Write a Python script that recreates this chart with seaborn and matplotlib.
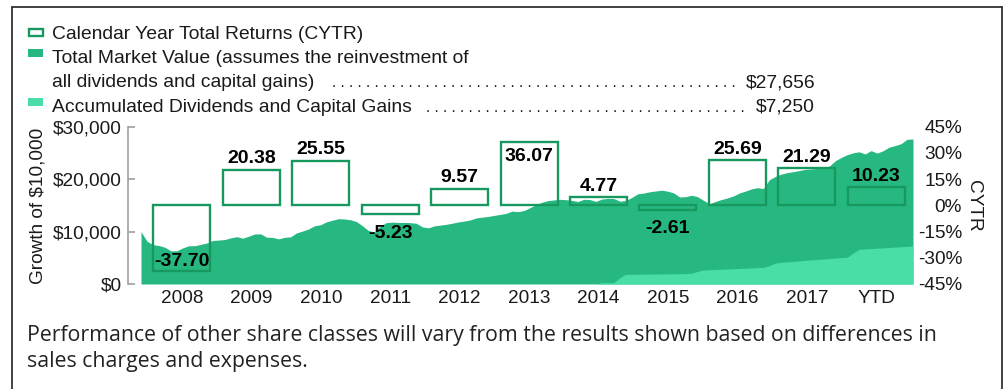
import numpy as np
import matplotlib
matplotlib.use("Agg")
import matplotlib.pyplot as plt
import seaborn as sns
from matplotlib.lines import Line2D
from matplotlib.patches import Rectangle

# ---- data -------------------------------------------------------------
years = ["2008", "2009", "2010", "2011", "2012", "2013",
         "2014", "2015", "2016", "2017", "YTD"]
cytr = [-37.70, 20.38, 25.55, -5.23, 9.57, 36.07,
        4.77, -2.61, 25.69, 21.29, 10.23]

# month-end growth of $10,000 (Dec 2007 .. Sep 2018)
market_value = [
    10000, 8150, 7500, 7340, 7000, 6320, 6330, 6900, 7300, 7300,
    7560, 7820, 8300, 8380, 8480, 8800, 9020, 8740, 9120, 9540,
    9560, 8920, 8890, 8600, 8900, 9000, 9750, 10100, 10500, 11100,
    11300, 11860, 12170, 12460, 12400, 12260, 11900, 11100, 10200, 9920,
    11100, 11700, 11800, 11740, 11750, 11700, 11580, 10900, 10700, 11080,
    11230, 11380, 11590, 11830, 12000, 12210, 12600, 12750, 12880, 13080,
    13270, 13460, 13900, 13800, 14000, 14560, 15120, 15600, 15900, 16030,
    16150, 16080, 15950, 15740, 16150, 16100, 15760, 16200, 16330, 16300,
    15800, 15900, 16500, 17200, 17340, 17590, 17740, 17890, 17700, 17380,
    16600, 16650, 16930, 16650, 15950, 15300, 15750, 16110, 16420, 16800,
    17360, 17720, 18130, 18370, 18200, 19900, 20510, 20970, 21240, 21420,
    21640, 21850, 21940, 22030, 22210, 22470, 23500, 24130, 24660, 25020,
    25210, 24800, 25440, 24960, 25410, 26100, 26390, 26760, 27600, 27656,
]
accumulated_dividends = [
    0, 0, 0, 0, 0, 0, 0, 0, 0, 0,
    0, 0, 0, 0, 0, 0, 0, 0, 0, 0,
    0, 0, 0, 0, 0, 0, 0, 0, 0, 0,
    0, 0, 0, 0, 0, 0, 0, 0, 0, 0,
    0, 0, 0, 0, 0, 0, 0, 0, 0, 0,
    0, 0, 0, 0, 0, 0, 0, 0, 0, 0,
    0, 0, 0, 0, 0, 0, 0, 0, 0, 0,
    0, 0, 0, 0, 0, 0, 0, 250, 250, 250,
    1200, 1850, 1850, 1870, 1880, 1900, 1910, 1920, 1930, 1950,
    1960, 1980, 2050, 2400, 2670, 2720, 2770, 2820, 2870, 2920,
    2970, 3020, 3070, 3120, 3170, 3500, 4000, 4140, 4230, 4320,
    4410, 4500, 4590, 4680, 4770, 4860, 4950, 5040, 5100, 5900,
    6620, 6690, 6760, 6830, 6900, 6970, 7040, 7110, 7180, 7250,
]
dollar_ticks = [0, 10000, 20000, 30000]
pct_ticks = [-45, -30, -15, 0, 15, 30, 45]
ending_value = 27656
ending_dividends = 7250

# ---- style ------------------------------------------------------------
DARK = "#26b880"
LIGHT = "#48dea6"
BOX = "#16985f"
INK = "#1a1a1a"
FS = 13.7        # tick labels
FS_LEG = 13.9    # legend lines
FS_VAL = 14.0    # bar value labels

W, H, DPI = 1005, 389, 100
sns.set_theme(style="white")
plt.rcParams["font.family"] = ["Liberation Sans", "DejaVu Sans"]

fig = plt.figure(figsize=(W / DPI, H / DPI), dpi=DPI)
fig.patch.set_facecolor("white")


def fx(px):
    return px / W


def fy(py):
    return 1 - py / H


PX = 72 / DPI  # points per pixel

L, R, T, B = 141, 913, 126.7, 284
rect = [fx(L), fy(B), (R - L) / W, (B - T) / H]

# ---- growth-of-$10,000 areas -----------------------------------------
ax = fig.add_axes(rect)
ax.patch.set_visible(False)
months = np.arange(len(market_value))
ax.fill_between(months, 0, market_value, color=DARK, lw=0)
ax.fill_between(months, 0, accumulated_dividends, color=LIGHT, lw=0)
ax.set_xlim(0, len(market_value) - 1)
ax.set_ylim(0, 30000)
ax.set_xticks([])
ax.set_yticks(dollar_ticks)
ax.set_yticklabels([f"${v:,.0f}" for v in dollar_ticks])
for s in ["top", "right", "bottom"]:
    ax.spines[s].set_visible(False)
ax.spines["left"].set_position(("outward", 13 * PX))
ax.spines["left"].set_color("#a0a0a0")
ax.spines["left"].set_linewidth(1.2)
ax.tick_params(axis="y", left=True, direction="in", length=5, width=1.2,
               color="#a0a0a0", pad=4.5, labelsize=FS, labelcolor=INK)

# ---- calendar-year total returns -------------------------------------
ax2 = fig.add_axes(rect)
ax2.patch.set_visible(False)
sns.barplot(x=years, y=cytr, ax=ax2, fill=False, color=BOX, width=0.82,
            linewidth=1.7, errorbar=None)
ax2.set_xlim(-0.59, 10.53)
ax2.set_ylim(-45, 45)
ax2.set_xlabel("")
ax2.set_ylabel("")
for s in ax2.spines.values():
    s.set_visible(False)
ax2.yaxis.tick_right()
ax2.set_yticks(pct_ticks)
ax2.set_yticklabels([f"{v}%" for v in pct_ticks])
ax2.tick_params(axis="y", right=True, left=False, length=0,
                pad=49 * PX, labelsize=FS, labelcolor=INK)
for tl in ax2.get_yticklabels():
    tl.set_horizontalalignment("right")
ax2.tick_params(axis="x", bottom=True, length=0, pad=6 * PX,
                labelsize=FS, labelcolor=INK)

for i, v in enumerate(cytr):
    if v >= 0:
        # above the box, or tucked inside when it would leave the panel
        off = -19 if v > 30 else 6.5
    else:
        off = 5 if v < -30 else -23.5
    ax2.annotate(f"{v:.2f}", (i, v), xytext=(0, off * PX),
                 textcoords="offset points", ha="center", va="baseline",
                 fontsize=FS_VAL, fontweight="bold", color="black", zorder=5)

# ---- axis titles -------------------------------------------------------
fig.text(fx(38), fy(206), "Growth of $10,000", rotation=90,
         ha="center", va="center", fontsize=FS, color=INK)
fig.text(fx(973), fy(206), "CYTR", rotation=270,
         ha="center", va="center", fontsize=FS, color=INK)

# ---- legend -------------------------------------------------------------
fig.add_artist(Rectangle((fx(29), fy(36)), 14 / W, 7 / H, facecolor="white",
                         edgecolor=BOX, linewidth=1.7, transform=fig.transFigure))
fig.add_artist(Rectangle((fx(28), fy(57)), 15 / W, 8 / H, facecolor=DARK,
                         edgecolor="none", transform=fig.transFigure))
fig.add_artist(Rectangle((fx(28), fy(106)), 15 / W, 8 / H, facecolor=LIGHT,
                         edgecolor="none", transform=fig.transFigure))

fig.text(fx(52), fy(39.3), "Calendar Year Total Returns (CYTR)",
         va="baseline", fontsize=FS_LEG, color=INK)
fig.text(fx(52), fy(63.3), "Total Market Value (assumes the reinvestment of",
         va="baseline", fontsize=FS_LEG, color=INK)
fig.text(fx(52), fy(87.3), "all dividends and capital gains)",
         va="baseline", fontsize=FS_LEG, color=INK)
fig.text(fx(52), fy(111.7), "Accumulated Dividends and Capital Gains",
         va="baseline", fontsize=FS_LEG, color=INK)

# dot leaders up to the ending values
fig.text(fx(740), fy(87.3), ". " * 48, ha="right", va="baseline",
         fontsize=11.2, color=INK)
fig.text(fx(749), fy(111.7), ". " * 38, ha="right", va="baseline",
         fontsize=11.2, color=INK)
fig.text(fx(815), fy(87.3), f"${ending_value:,}", ha="right",
         va="baseline", fontsize=FS_LEG, color=INK)
fig.text(fx(815), fy(111.7), f"${ending_dividends:,}", ha="right",
         va="baseline", fontsize=FS_LEG, color=INK)

# ---- footnote --------------------------------------------------------
foot = ["Performance of other share classes will vary from the results shown based on differences in",
        "sales charges and expenses."]
fig.text(fx(27), fy(336), foot[0], va="center", fontsize=15.3,
         family=["Open Sans", "DejaVu Sans"], color="#222222")
fig.text(fx(27), fy(362), foot[1], va="center", fontsize=15.3,
         family=["Open Sans", "DejaVu Sans"], color="#222222")

# ---- panel frame -------------------------------------------------------
frame_kw = dict(color="#333333", linewidth=1.3, transform=fig.transFigure)
fig.add_artist(Line2D([fx(11.7), fx(11.7)], [fy(6.7), fy(389)], **frame_kw))
fig.add_artist(Line2D([fx(11.7), fx(1001.5)], [fy(6.7), fy(6.7)], **frame_kw))
fig.add_artist(Line2D([fx(1001.5), fx(1001.5)], [fy(6.7), fy(389)], **frame_kw))

fig.savefig("out.png", dpi=DPI, facecolor="white")
